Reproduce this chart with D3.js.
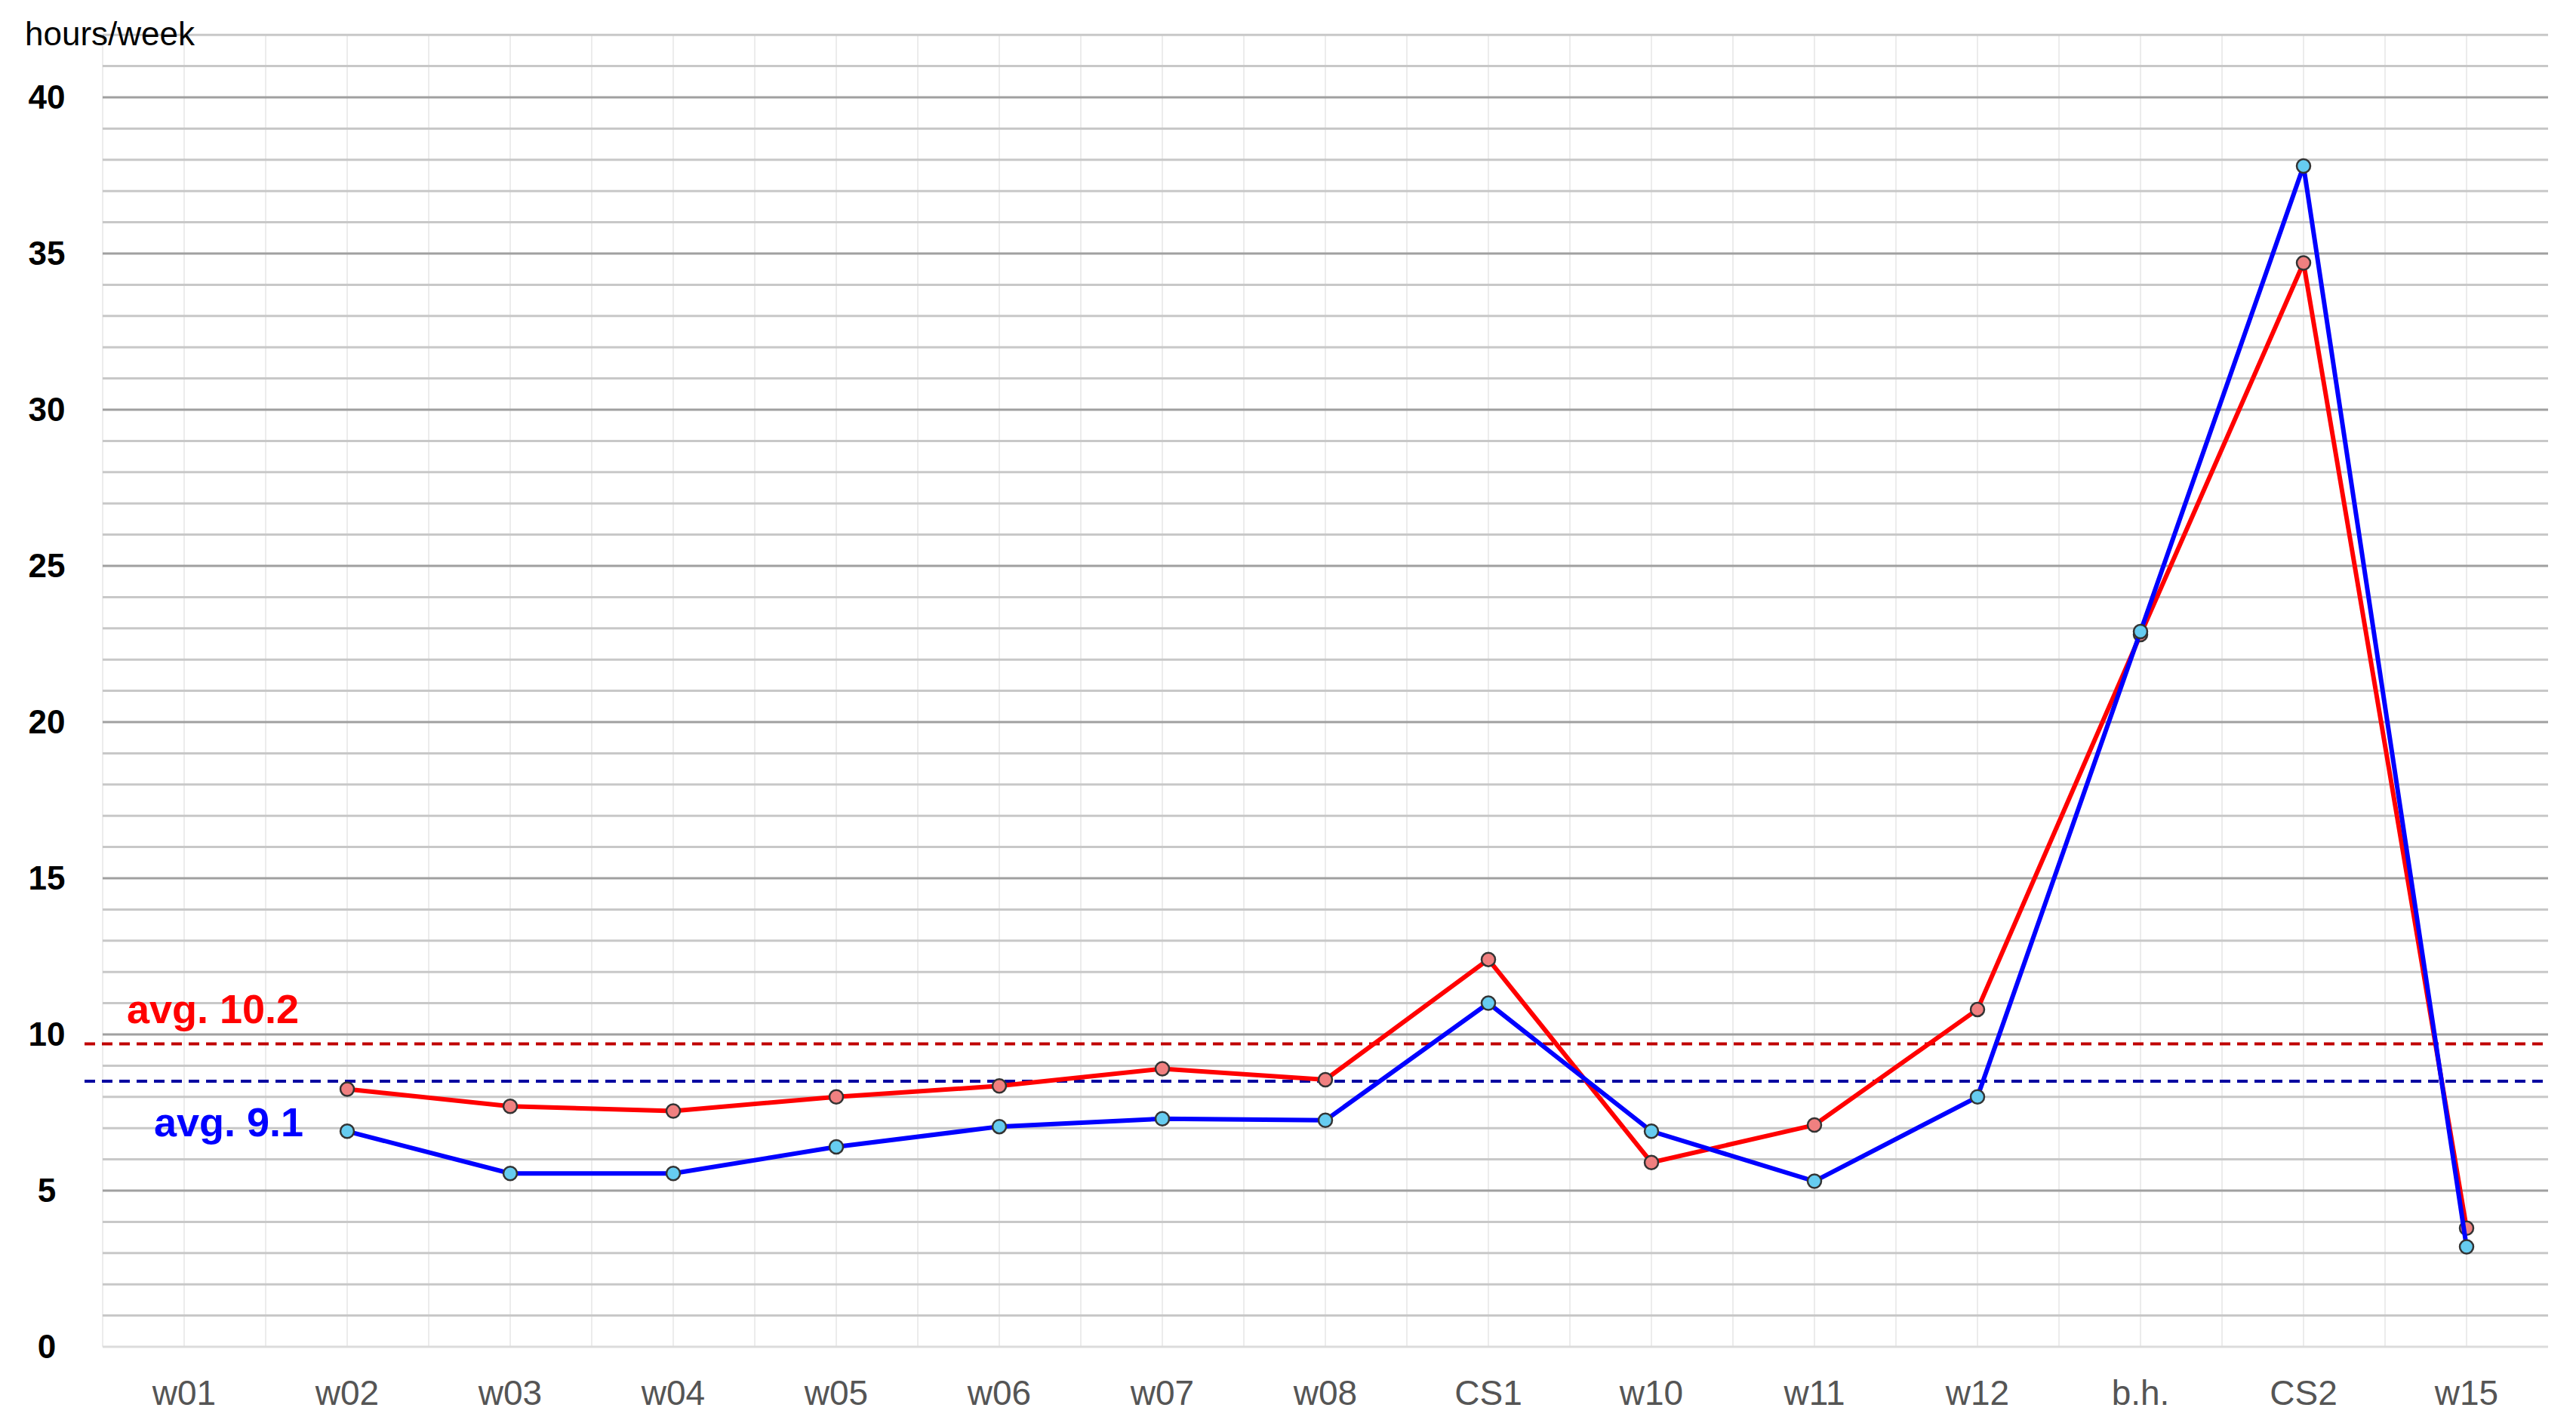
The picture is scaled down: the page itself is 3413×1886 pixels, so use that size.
<!DOCTYPE html>
<html><head><meta charset="utf-8">
<script src="https://cdn.jsdelivr.net/npm/d3@7"></script>
<style>body{margin:0;background:#fff}text{font-family:"Liberation Sans",Arial,sans-serif}</style>
</head><body><svg id="s" width="3413" height="1886"></svg>
<script>
// Data
const weeks = ["w01","w02","w03","w04","w05","w06","w07","w08","CS1","w10","w11","w12","b.h.","CS2","w15"],
  redVals = [null,8.25,7.7,7.55,8.0,8.35,8.9,8.55,12.4,5.9,7.1,10.8,22.8,34.7,3.8],
  blueVals = [null,6.9,5.55,5.55,6.4,7.05,7.3,7.25,11.0,6.9,5.3,8.0,22.9,37.8,3.2],
  yTicks = [0,5,10,15,20,25,30,35,40],
  avgLines = [{y:9.7,label:"avg. 10.2",dash:"#c00000",col:"#ff0000",lx:168,ly:1356},
              {y:8.5,label:"avg. 9.1",dash:"#0000a0",col:"#0000ff",lx:204,ly:1506}];

const svg = d3.select("#s"),
  L = 136, R = 3376, B = 1785, T = 48;
const x = d3.scaleBand().domain(weeks).range([L, R]),
  cx = d => x(d) + x.bandwidth() / 2,
  y = d3.scaleLinear().domain([0, 40]).range([B, 129]);

// grid
const g = svg.append("g");
weeks.forEach(w => {
  [x(w), cx(w)].forEach(xx => g.append("line").attr("x1", xx).attr("x2", xx)
    .attr("y1", y(42)).attr("y2", B).attr("stroke", "#ececec").attr("stroke-width", 2));
});
d3.range(1, 43).forEach(v => g.append("line").attr("x1", L).attr("x2", R)
  .attr("y1", y(v)).attr("y2", y(v))
  .attr("stroke", v % 5 ? "#c8c8c8" : "#a0a0a0").attr("stroke-width", 3));
g.append("line").attr("x1", L).attr("x2", R).attr("y1", B).attr("y2", B)
  .attr("stroke", "#dcdcdc").attr("stroke-width", 3);

// axes labels
yTicks.forEach(v => svg.append("text").attr("x", 62).attr("y", y(v) + 15)
  .attr("text-anchor", "middle").attr("font-size", 44).attr("font-weight", "bold").text(v));
weeks.forEach(w => svg.append("text").attr("x", cx(w)).attr("y", 1862)
  .attr("text-anchor", "middle").attr("font-size", 46).attr("fill", "#555").text(w));
svg.append("text").attr("x", 33).attr("y", 60).attr("font-size", 44).text("hours/week");

// averages
avgLines.forEach(a => {
  svg.append("line").attr("x1", 112).attr("x2", R).attr("y1", y(a.y)).attr("y2", y(a.y))
    .attr("stroke", a.dash).attr("stroke-width", 4).attr("stroke-dasharray", "14,9");
  svg.append("text").attr("x", a.lx).attr("y", a.ly).attr("font-size", 54)
    .attr("font-weight", "bold").attr("fill", a.col).text(a.label);
});

// series
[[redVals, "#ff0000", "#f08080"], [blueVals, "#0000ff", "#66ccf0"]].forEach(([vals, c, f]) => {
  const pts = weeks.map((w, i) => [w, vals[i]]).filter(p => p[1] != null);
  svg.append("path").datum(pts)
    .attr("d", d3.line().x(p => cx(p[0])).y(p => y(p[1])))
    .attr("fill", "none").attr("stroke", c).attr("stroke-width", 6);
  svg.selectAll(null).data(pts).join("circle")
    .attr("cx", p => cx(p[0])).attr("cy", p => y(p[1])).attr("r", 9)
    .attr("fill", f).attr("stroke", "#333").attr("stroke-width", 2.5);
});
</script></body></html>
